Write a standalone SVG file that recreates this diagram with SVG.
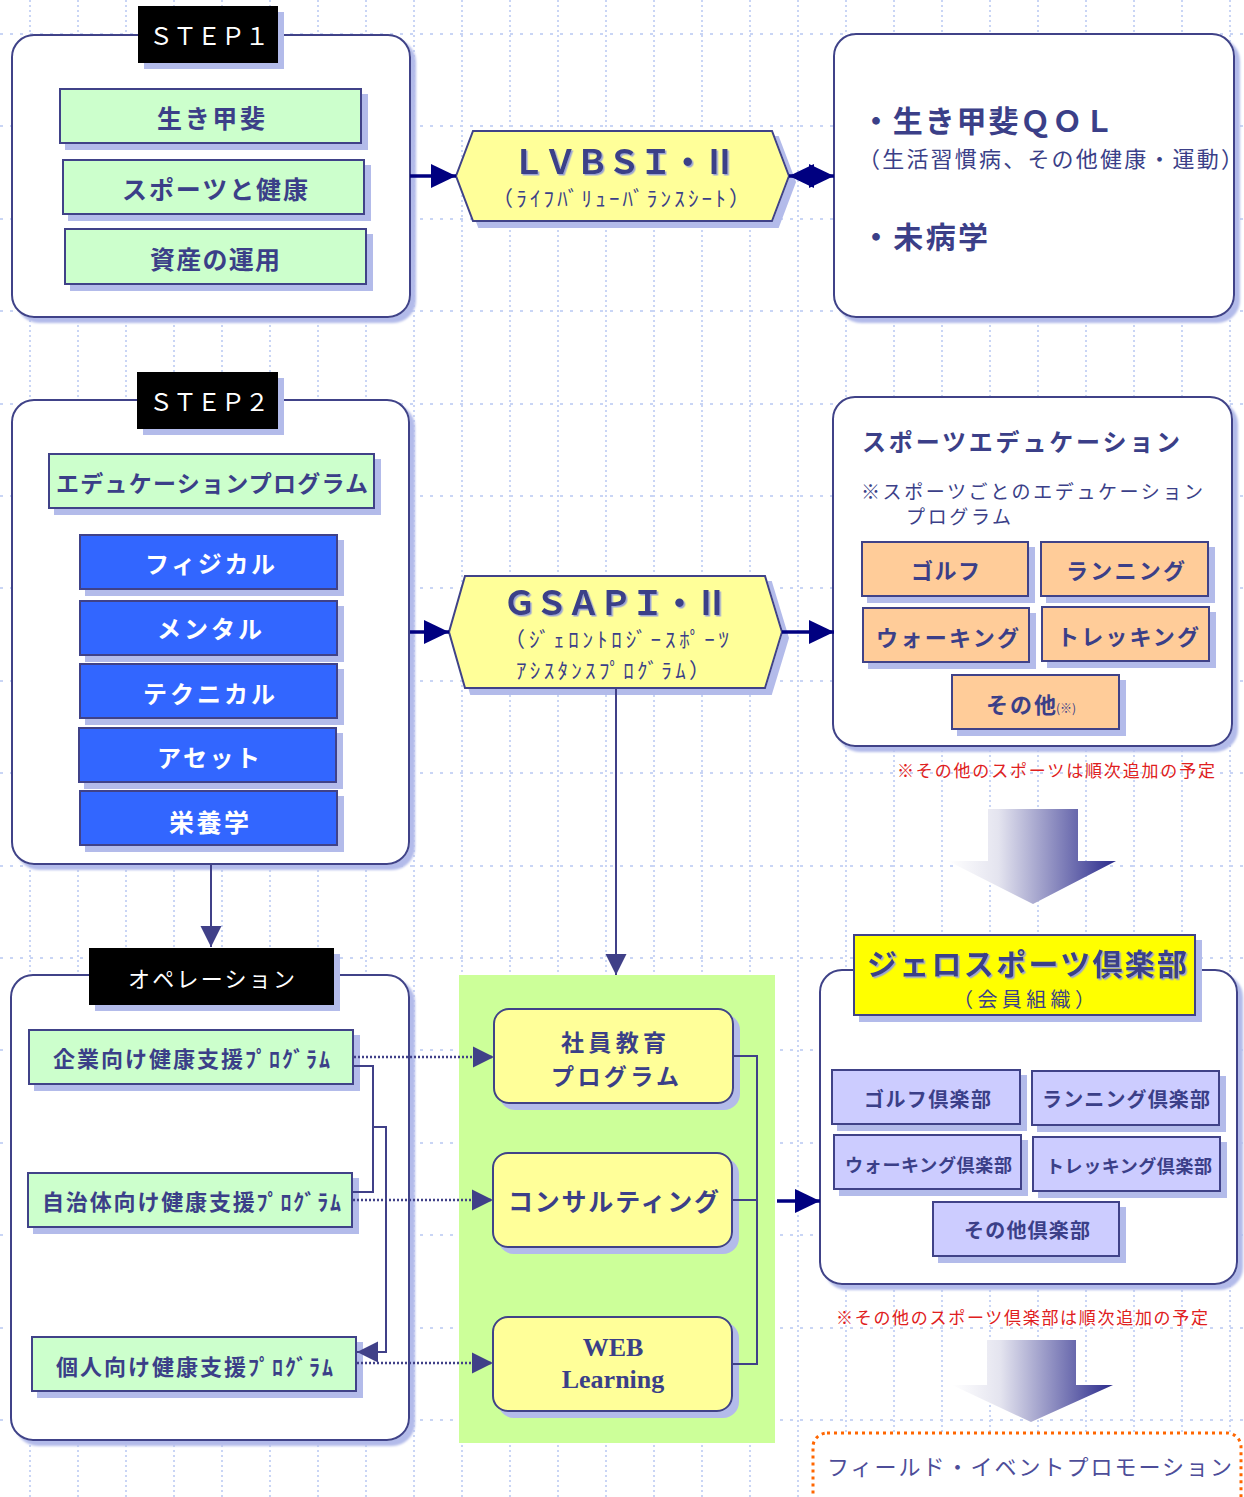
<svg xmlns="http://www.w3.org/2000/svg" width="1244" height="1497" viewBox="0 0 1244 1497">
<style>
text{font-family:'Noto Sans CJK JP','Noto Sans CJK SC',sans-serif;fill:#3b3f88;}
.b{font-weight:bold;}
.w{fill:#ffffff;}
.red{fill:#e02020;}
.cont{fill:#ffffff;stroke:#3f4388;stroke-width:2;}
.lbl{fill:#000000;}
.green{fill:#ccffcc;stroke:#3f4388;stroke-width:2;}
.blue{fill:#3366ff;stroke:#3f4388;stroke-width:2;}
.orange{fill:#ffcc99;stroke:#3f4388;stroke-width:2;}
.lav{fill:#ccccff;stroke:#3f4388;stroke-width:2;}
.yel{fill:#ffff99;stroke:#3f4388;stroke-width:2;}
.thick{stroke:#000080;stroke-width:3.5;fill:none;}
.thin{stroke:#404088;stroke-width:2;fill:none;}
.dot{stroke:#404088;stroke-width:2.5;stroke-dasharray:2 2;fill:none;}
</style>
<defs>
<filter id="sh" x="-10%" y="-10%" width="130%" height="130%"><feDropShadow dx="6" dy="6" stdDeviation="0" flood-color="#b3bbea" flood-opacity="1"/></filter>
<filter id="shc" x="-10%" y="-10%" width="130%" height="130%"><feDropShadow dx="5" dy="5" stdDeviation="0.8" flood-color="#b3bbea" flood-opacity="1"/></filter>
<filter id="ts" x="-10%" y="-20%" width="130%" height="150%"><feDropShadow dx="1.5" dy="1.5" stdDeviation="0.4" flood-color="#9aa3d6" flood-opacity="1"/></filter>
<marker id="ah" markerUnits="userSpaceOnUse" markerWidth="26" markerHeight="24" refX="25" refY="12" orient="auto-start-reverse"><path d="M0,0 L25,12 L0,24 z" fill="#000080"/></marker>
<marker id="ahs" markerUnits="userSpaceOnUse" markerWidth="22" markerHeight="22" refX="21" refY="11" orient="auto"><path d="M0,0.5 L21,11 L0,21.5 z" fill="#404088"/></marker>
<linearGradient id="ga" x1="0" y1="0" x2="1" y2="0"><stop offset="0" stop-color="#ffffff"/><stop offset="0.3" stop-color="#e4e4ef"/><stop offset="1" stop-color="#2b2b8c"/></linearGradient>
</defs>
<rect x="0" y="0" width="1244" height="1497" fill="#ffffff"/>
<g id="grid" stroke="#c9d5f5" stroke-width="2" fill="none">
<path stroke-dasharray="2 3" d="M30 0V1497M78 0V1497M126 0V1497M174 0V1497M222 0V1497M270 0V1497M318 0V1497M366 0V1497M414 0V1497M462 0V1497M510 0V1497M558 0V1497M606 0V1497M654 0V1497M702 0V1497M750 0V1497M798 0V1497M846 0V1497M894 0V1497M942 0V1497M990 0V1497M1038 0V1497M1086 0V1497M1134 0V1497M1182 0V1497M1230 0V1497"/>
<path stroke-dasharray="3 7" d="M0 34H1244M0 126H1244M0 219H1244M0 311H1244M0 404H1244M0 496H1244M0 588H1244M0 681H1244M0 773H1244M0 866H1244M0 958H1244M0 1050H1244M0 1143H1244M0 1235H1244M0 1328H1244M0 1420H1244"/>
</g>
<g id="panel"><rect x="459" y="975" width="316" height="468" fill="#ccff99"/></g>
<g id="step1">
<rect class="cont" x="12" y="35" width="398" height="282" rx="22" filter="url(#shc)"/>
<rect class="lbl" x="138" y="6" width="140" height="57" filter="url(#sh)"/>
<text class="w" x="149" y="45" font-size="24" textLength="120" lengthAdjust="spacing">ＳＴＥＰ１</text>
</g>
<g id="ikigai"><rect class="green" x="60" y="89" width="301" height="54" filter="url(#sh)"/><text class="b" x="157" y="128" font-size="25" textLength="108" lengthAdjust="spacing">生き甲斐</text></g>
<g id="sports-health"><rect class="green" x="63" y="160" width="301" height="54" filter="url(#sh)"/><text class="b" x="122" y="199" font-size="25" textLength="186" lengthAdjust="spacing">スポーツと健康</text></g>
<g id="assets"><rect class="green" x="65" y="229" width="301" height="55" filter="url(#sh)"/><text class="b" x="150" y="269" font-size="25" textLength="130" lengthAdjust="spacing">資産の運用</text></g>
<g id="lvbsi">
<polygon class="yel" points="456,176 473,131 772,131 789,176 772,221 473,221" filter="url(#sh)"/>
<text class="b" x="512" y="174" font-size="33" textLength="224" lengthAdjust="spacing" filter="url(#ts)">ＬＶＢＳＩ・Ⅱ</text>
<text x="492" y="206" font-size="21" textLength="258" lengthAdjust="spacing">（ﾗｲﾌﾊﾞﾘｭｰﾊﾞﾗﾝｽｼｰﾄ）</text>
</g>
<g id="qol">
<rect class="cont" x="834" y="34" width="400" height="283" rx="22" filter="url(#shc)"/>
<text class="b" x="861" y="132" font-size="30" textLength="253" lengthAdjust="spacing">・生き甲斐ＱＯＬ</text>
<text x="858" y="167" font-size="22" textLength="385" lengthAdjust="spacing">（生活習慣病、その他健康・運動）</text>
<text class="b" x="861" y="248" font-size="30" textLength="127" lengthAdjust="spacing">・未病学</text>
</g>
<g id="step2">
<rect class="cont" x="12" y="400" width="397" height="464" rx="22" filter="url(#shc)"/>
<rect class="lbl" x="137" y="372" width="141" height="57" filter="url(#sh)"/>
<text class="w" x="149" y="411" font-size="24" textLength="120" lengthAdjust="spacing">ＳＴＥＰ２</text>
</g>
<g id="edu-program"><rect class="green" x="49" y="454" width="325" height="54" filter="url(#sh)"/><text class="b" x="56" y="492" font-size="23" textLength="312" lengthAdjust="spacing">エデュケーションプログラム</text></g>
<g id="physical"><rect class="blue" x="80" y="535" width="257" height="54" filter="url(#sh)"/><text class="b w" x="145" y="573" font-size="24" textLength="130" lengthAdjust="spacing">フィジカル</text></g>
<g id="mental"><rect class="blue" x="80" y="601" width="257" height="54" filter="url(#sh)"/><text class="b w" x="157" y="638" font-size="24" textLength="105" lengthAdjust="spacing">メンタル</text></g>
<g id="technical"><rect class="blue" x="80" y="664" width="257" height="54" filter="url(#sh)"/><text class="b w" x="143" y="703" font-size="24" textLength="132" lengthAdjust="spacing">テクニカル</text></g>
<g id="asset"><rect class="blue" x="79" y="728" width="257" height="54" filter="url(#sh)"/><text class="b w" x="157" y="767" font-size="24" textLength="103" lengthAdjust="spacing">アセット</text></g>
<g id="nutrition"><rect class="blue" x="80" y="791" width="257" height="54" filter="url(#sh)"/><text class="b w" x="169" y="832" font-size="25" textLength="80" lengthAdjust="spacing">栄養学</text></g>
<g id="gsapi">
<polygon class="yel" points="449,632 465,576 765,576 782,632 765,688 465,688" filter="url(#sh)"/>
<text class="b" x="503" y="615" font-size="33" textLength="225" lengthAdjust="spacing" filter="url(#ts)">ＧＳＡＰＩ・Ⅱ</text>
<text x="504" y="647" font-size="21" textLength="225" lengthAdjust="spacing">（ｼﾞｪﾛﾝﾄﾛｼﾞｰｽﾎﾟｰﾂ</text>
<text x="516" y="678" font-size="21" textLength="194" lengthAdjust="spacing">ｱｼｽﾀﾝｽﾌﾟﾛｸﾞﾗﾑ）</text>
</g>
<g id="sports-education">
<rect class="cont" x="833" y="397" width="399" height="349" rx="22" filter="url(#shc)"/>
<text class="b" x="862" y="451" font-size="24" textLength="318" lengthAdjust="spacing">スポーツエデュケーション</text>
<text x="861" y="499" font-size="19" textLength="342" lengthAdjust="spacing">※スポーツごとのエデュケーション</text>
<text x="906" y="524" font-size="19" textLength="105" lengthAdjust="spacing">プログラム</text>
</g>
<g id="golf"><rect class="orange" x="862" y="542" width="166" height="54" filter="url(#sh)"/><text class="b" x="911" y="579" font-size="22" textLength="69" lengthAdjust="spacing">ゴルフ</text></g>
<g id="running"><rect class="orange" x="1041" y="542" width="167" height="54" filter="url(#sh)"/><text class="b" x="1066" y="579" font-size="22" textLength="119" lengthAdjust="spacing">ランニング</text></g>
<g id="walking"><rect class="orange" x="863" y="608" width="166" height="54" filter="url(#sh)"/><text class="b" x="876" y="646" font-size="22" textLength="143" lengthAdjust="spacing">ウォーキング</text></g>
<g id="trekking"><rect class="orange" x="1042" y="607" width="167" height="54" filter="url(#sh)"/><text class="b" x="1057" y="645" font-size="22" textLength="142" lengthAdjust="spacing">トレッキング</text></g>
<g id="other-sport"><rect class="orange" x="952" y="675" width="167" height="54" filter="url(#sh)"/><text class="b" x="986" y="713" font-size="22" textLength="70" lengthAdjust="spacing">その他</text><text x="1056" y="713" font-size="12">(※)</text></g>
<g id="note1"><text class="red" x="897" y="777" font-size="17" textLength="318" lengthAdjust="spacing">※その他のスポーツは順次追加の予定</text></g>
<g id="grad-arrow-1"><polygon points="988,809 1078,809 1078,861 1116,861 1033,904 948,861 988,861" fill="url(#ga)"/></g>
<g id="operation">
<rect class="cont" x="11" y="975" width="398" height="465" rx="22" filter="url(#shc)"/>
<rect class="lbl" x="89" y="948" width="245" height="57" filter="url(#sh)"/>
<text class="w" x="128" y="987" font-size="22" textLength="167" lengthAdjust="spacing">オペレーション</text>
</g>
<g id="corp"><rect class="green" x="29" y="1030" width="324" height="54" filter="url(#sh)"/><text class="b" x="53" y="1067" font-size="22" textLength="277" lengthAdjust="spacing">企業向け健康支援ﾌﾟﾛｸﾞﾗﾑ</text></g>
<g id="municipal"><rect class="green" x="28" y="1173" width="324" height="54" filter="url(#sh)"/><text class="b" x="42" y="1210" font-size="22" textLength="299" lengthAdjust="spacing">自治体向け健康支援ﾌﾟﾛｸﾞﾗﾑ</text></g>
<g id="personal"><rect class="green" x="32" y="1337" width="324" height="54" filter="url(#sh)"/><text class="b" x="56" y="1375" font-size="22" textLength="277" lengthAdjust="spacing">個人向け健康支援ﾌﾟﾛｸﾞﾗﾑ</text></g>
<g id="employee-edu"><rect class="yel" x="494" y="1009" width="239" height="94" rx="15" filter="url(#sh)"/><text class="b" x="561" y="1051" font-size="23" textLength="105" lengthAdjust="spacing">社員教育</text><text class="b" x="551" y="1085" font-size="23" textLength="128" lengthAdjust="spacing">プログラム</text></g>
<g id="consulting"><rect class="yel" x="493" y="1153" width="239" height="94" rx="15" filter="url(#sh)"/><text class="b" x="508" y="1211" font-size="25" textLength="211" lengthAdjust="spacing">コンサルティング</text></g>
<g id="web-learning"><rect class="yel" x="493" y="1317" width="239" height="94" rx="15" filter="url(#sh)"/><text class="b" x="613" y="1356" font-size="26" text-anchor="middle" style="font-family:'Liberation Serif',serif">WEB</text><text class="b" x="613" y="1388" font-size="26" text-anchor="middle" style="font-family:'Liberation Serif',serif">Learning</text></g>
<g id="club">
<rect class="cont" x="820" y="970" width="417" height="314" rx="22" filter="url(#shc)"/>
<rect x="854" y="935" width="341" height="80" fill="#ffff00" stroke="#3f4388" stroke-width="2" filter="url(#sh)"/>
<text class="b" x="867" y="975" font-size="30" textLength="320" lengthAdjust="spacing" filter="url(#ts)">ジェロスポーツ倶楽部</text>
<text x="953" y="1007" font-size="20" textLength="142" lengthAdjust="spacing">（会員組織）</text>
</g>
<g id="golf-club"><rect class="lav" x="832" y="1070" width="188" height="54" filter="url(#sh)"/><text class="b" x="864" y="1107" font-size="20" textLength="127" lengthAdjust="spacing">ゴルフ倶楽部</text></g>
<g id="running-club"><rect class="lav" x="1032" y="1071" width="187" height="54" filter="url(#sh)"/><text class="b" x="1042" y="1107" font-size="20" textLength="168" lengthAdjust="spacing">ランニング倶楽部</text></g>
<g id="walking-club"><rect class="lav" x="834" y="1135" width="187" height="54" filter="url(#sh)"/><text class="b" x="845" y="1172" font-size="18" textLength="167" lengthAdjust="spacing">ウォーキング倶楽部</text></g>
<g id="trekking-club"><rect class="lav" x="1033" y="1137" width="187" height="54" filter="url(#sh)"/><text class="b" x="1046" y="1173" font-size="18" textLength="166" lengthAdjust="spacing">トレッキング倶楽部</text></g>
<g id="other-club"><rect class="lav" x="933" y="1202" width="186" height="54" filter="url(#sh)"/><text class="b" x="964" y="1238" font-size="20" textLength="126" lengthAdjust="spacing">その他倶楽部</text></g>
<g id="note2"><text class="red" x="836" y="1324" font-size="17" textLength="372" lengthAdjust="spacing">※その他のスポーツ倶楽部は順次追加の予定</text></g>
<g id="grad-arrow-2"><polygon points="987,1340 1076,1340 1076,1385 1113,1385 1031,1422 952,1385 987,1385" fill="url(#ga)"/></g>
<g id="field-event">
<rect x="813" y="1433" width="428" height="84" rx="14" fill="#ffffff" stroke="#ff6600" stroke-width="3" stroke-dasharray="3 4"/>
<text x="827" y="1475" font-size="22" textLength="405" lengthAdjust="spacing" style="fill:#4d4d99">フィールド・イベントプロモーション</text>
</g>
<g id="connectors">
<line class="thick" x1="410" y1="176" x2="456" y2="176" marker-end="url(#ah)"/>
<line class="thick" x1="789" y1="176" x2="834" y2="176" marker-start="url(#ah)" marker-end="url(#ah)" stroke-width="2"/>
<line class="thick" x1="410" y1="632" x2="449" y2="632" marker-end="url(#ah)"/>
<line class="thick" x1="782" y1="632" x2="834" y2="632" marker-end="url(#ah)"/>
<line class="thin" x1="211" y1="865" x2="211" y2="947" marker-end="url(#ahs)"/>
<line class="thin" x1="616" y1="689" x2="616" y2="975" marker-end="url(#ahs)"/>
<line class="dot" x1="354" y1="1057" x2="494" y2="1057" marker-end="url(#ahs)"/>
<line class="dot" x1="353" y1="1200" x2="493" y2="1200" marker-end="url(#ahs)"/>
<line class="dot" x1="357" y1="1363" x2="493" y2="1363" marker-end="url(#ahs)"/>
<polyline class="thin" points="733,1056 757,1056 757,1364 733,1364"/>
<polyline class="thin" points="733,1200 757,1200"/>
<line class="thick" x1="777" y1="1201" x2="820" y2="1201" marker-end="url(#ah)"/>
<polyline class="thin" points="353,1066 373,1066 373,1192 352,1192"/>
<polyline class="thin" points="372,1127 386,1127 386,1352 357,1352" marker-end="url(#ahs)"/>
</g>
</svg>
